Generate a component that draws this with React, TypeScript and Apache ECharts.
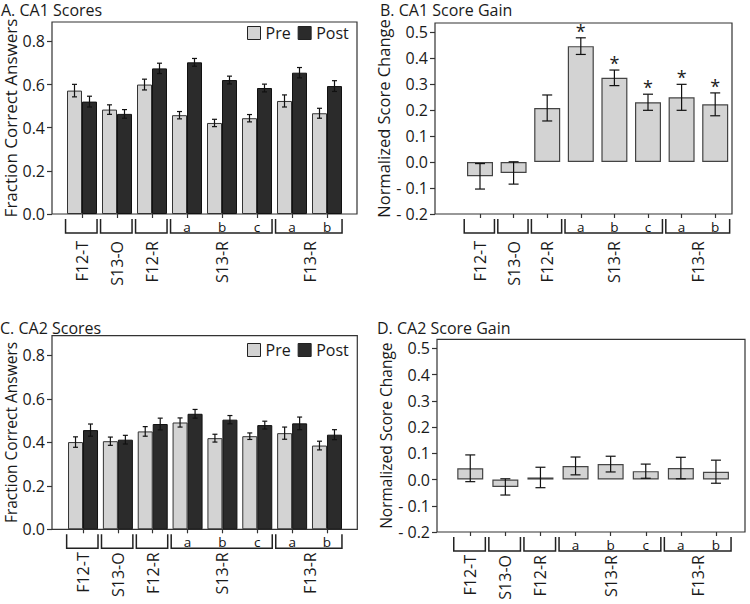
import React, { useEffect, useRef } from "react";
import * as echarts from "echarts";

// ---------- data ----------
const categories = ["F12-T", "S13-O", "F12-R", "S13-R a", "S13-R b", "S13-R c", "F13-R a", "F13-R b"];
const subLabels = ["", "", "", "a", "b", "c", "a", "b"];
const groupNames = ["F12-T", "S13-O", "F12-R", "S13-R", "F13-R"];
const groupStart = [0, 1, 2, 3, 6];
const groupEnd = [0, 1, 2, 5, 7];

const ca1Pre = [0.572, 0.484, 0.600, 0.458, 0.422, 0.444, 0.524, 0.467];
const ca1PreErr = [0.029, 0.022, 0.025, 0.017, 0.017, 0.017, 0.028, 0.023];
const ca1Post = [0.521, 0.464, 0.675, 0.703, 0.621, 0.584, 0.655, 0.593];
const ca1PostErr = [0.025, 0.020, 0.024, 0.018, 0.018, 0.018, 0.024, 0.025];
const ca1Gain = [-0.055, -0.042, 0.208, 0.446, 0.324, 0.230, 0.249, 0.222];
const ca1GainErr = [0.049, 0.043, 0.050, 0.032, 0.030, 0.031, 0.050, 0.044];
const ca1Sig = [0, 0, 0, 1, 1, 1, 1, 1];

const ca2Pre = [0.401, 0.405, 0.450, 0.491, 0.419, 0.428, 0.442, 0.385];
const ca2PreErr = [0.024, 0.019, 0.022, 0.021, 0.018, 0.015, 0.028, 0.020];
const ca2Post = [0.456, 0.412, 0.484, 0.531, 0.504, 0.479, 0.487, 0.435];
const ca2PostErr = [0.028, 0.020, 0.027, 0.020, 0.019, 0.018, 0.029, 0.023];
const ca2Gain = [0.043, -0.028, 0.008, 0.052, 0.059, 0.032, 0.044, 0.030];
const ca2GainErr = [0.051, 0.031, 0.039, 0.034, 0.030, 0.027, 0.041, 0.044];
const ca2Sig = [0, 0, 0, 0, 0, 0, 0, 0];

const scoreTicks = [0, 0.2, 0.4, 0.6, 0.8];
const gainTicks = [-0.2, -0.1, 0, 0.1, 0.2, 0.3, 0.4, 0.5];

// ---------- style / layout ----------
const FONT = '"Open Sans", "Noto Sans", sans-serif';
const INK = "#1a1a1a";
const PRE_COLOR = "#d3d3d3";
const POST_COLOR = "#2b2b2b";

type Panel = {
  title: string;
  titleX: number;
  titleY: number;
  frame: { left: number; top: number; width: number; height: number };
  barsLeft: number;
  barsWidth: number;
  kind: "score" | "gain";
  yName: string;
  nameGap: number;
  nameSize: number;
  legendTop?: number;
};

const panels: Panel[] = [
  { title: "A. CA1 Scores", titleX: 1, titleY: 2, frame: { left: 52, top: 22, width: 305, height: 192 }, barsLeft: 64.5, barsWidth: 280, kind: "score", yName: "Fraction Correct Answers", nameGap: 33, nameSize: 17, legendTop: 25 },
  { title: "B. CA1 Score Gain", titleX: 380, titleY: 2, frame: { left: 435, top: 23, width: 297, height: 191 }, barsLeft: 463.2, barsWidth: 268.8, kind: "gain", yName: "Normalized Score Change", nameGap: 42, nameSize: 16.5 },
  { title: "C. CA2 Scores", titleX: 0, titleY: 320, frame: { left: 52, top: 335.7, width: 305.3, height: 193.6 }, barsLeft: 65.6, barsWidth: 278.8, kind: "score", yName: "Fraction Correct Answers", nameGap: 33, nameSize: 15.5, legendTop: 342 },
  { title: "D. CA2 Score Gain", titleX: 377, titleY: 320, frame: { left: 437, top: 339.3, width: 308, height: 192.7 }, barsLeft: 452.7, barsWidth: 280.8, kind: "gain", yName: "Normalized Score Change", nameGap: 42, nameSize: 15.5 },
];

function errRender(halfBar: number, capW: number) {
  return (params: any, api: any) => {
    const i = api.value(0);
    const v = api.value(1);
    const e = api.value(2);
    const side = api.value(3);
    const sig = api.value(4);
    const base = api.coord([i, v]);
    const x = base[0] + side * halfBar;
    const yt = api.coord([i, v + e])[1];
    const yb = api.coord([i, v - e])[1];
    const st = { stroke: "#111", lineWidth: 1.2 };
    const children: any[] = [
      { type: "line", shape: { x1: x, y1: yt, x2: x, y2: yb }, style: st },
      { type: "line", shape: { x1: x - capW / 2, y1: yt, x2: x + capW / 2, y2: yt }, style: st },
      { type: "line", shape: { x1: x - capW / 2, y1: yb, x2: x + capW / 2, y2: yb }, style: st },
    ];
    if (sig) {
      children.push({
        type: "text",
        x: x,
        y: yt + 2,
        style: { text: "*", fill: INK, fontSize: 18, fontFamily: FONT, align: "center", verticalAlign: "bottom" },
      });
    }
    return { type: "group", children };
  };
}

function bracketRender(labelTop: number) {
  return (params: any, api: any) => {
    const idx = params.dataIndex;
    const cs = params.coordSys;
    const bottom = cs.y + cs.height;
    const band = api.size([1, 0])[0];
    const sx = api.coord([api.value(0), 0])[0];
    const ex = api.coord([api.value(1), 0])[0];
    const x0 = sx - 0.47 * band;
    const x1 = ex + 0.43 * band;
    const y0 = bottom + 5;
    const y1 = bottom + 19;
    return {
      type: "group",
      children: [
        {
          type: "polyline",
          shape: { points: [[x0, y0], [x0, y1], [x1, y1], [x1, y0]] },
          style: { stroke: "#222", lineWidth: 1.5, fill: "none" },
        },
        {
          type: "text",
          x: (sx + ex) / 2,
          y: bottom + labelTop,
          rotation: Math.PI / 2,
          style: { text: groupNames[idx], fill: INK, fontSize: 16, fontFamily: FONT, align: "right", verticalAlign: "middle" },
        },
      ],
    };
  };
}

function buildOption() {
  const grid: any[] = [];
  const xAxis: any[] = [];
  const yAxis: any[] = [];
  const series: any[] = [];
  const title: any[] = [];
  const legend: any[] = [];

  const preSets = [ca1Pre, ca2Pre];
  const preErrs = [ca1PreErr, ca2PreErr];
  const postSets = [ca1Post, ca2Post];
  const postErrs = [ca1PostErr, ca2PostErr];
  const gainSets = [ca1Gain, ca2Gain];
  const gainErrs = [ca1GainErr, ca2GainErr];
  const sigSets = [ca1Sig, ca2Sig];

  panels.forEach((p, k) => {
    const isScore = p.kind === "score";
    const min = isScore ? 0 : -0.2;
    const max = isScore ? 0.89 : 0.535;
    const ticks = isScore ? scoreTicks : gainTicks;
    const interval = isScore ? 0.2 : 0.1;
    const row = k < 2 ? 0 : 1;
    const fi = 2 * k;
    const bi = 2 * k + 1;

    title.push({
      text: p.title,
      left: p.titleX,
      top: p.titleY,
      padding: 0,
      textStyle: { fontSize: 16, lineHeight: 16, fontWeight: "normal", color: INK, fontFamily: FONT },
    });

    grid.push({
      left: p.frame.left,
      top: p.frame.top,
      width: p.frame.width,
      height: p.frame.height,
      show: true,
      borderColor: "#333",
      borderWidth: 1.2,
      backgroundColor: "transparent",
    });
    grid.push({ left: p.barsLeft, top: p.frame.top, width: p.barsWidth, height: p.frame.height });

    xAxis.push({ gridIndex: fi, type: "value", min: 0, max: 1, show: false });
    xAxis.push({
      gridIndex: bi,
      type: "category",
      data: categories,
      boundaryGap: true,
      axisLine: { show: false, onZero: false },
      axisTick: { show: true, alignWithLabel: true, length: 4, lineStyle: { color: "#333", width: 1.2 } },
      axisLabel: {
        interval: 0,
        margin: 6,
        fontSize: 13.5,
        fontFamily: FONT,
        color: "#111111",
        formatter: (_v: string, i: number) => subLabels[i],
      },
      splitLine: { show: false },
    });

    yAxis.push({
      gridIndex: fi,
      type: "value",
      min,
      max,
      interval,
      name: p.yName,
      nameLocation: "middle",
      nameGap: p.nameGap,
      nameTextStyle: { fontSize: p.nameSize, fontFamily: FONT, color: INK },
      axisLine: { show: false },
      axisTick: { show: true, length: 5, customValues: ticks, lineStyle: { color: "#333", width: 1.2 } },
      axisLabel: {
        customValues: ticks,
        margin: 7,
        fontSize: 16,
        fontFamily: FONT,
        color: INK,
        formatter: (v: number) => (v < -1e-9 ? "- " + Math.abs(v).toFixed(1) : Math.abs(v).toFixed(1)),
      },
      splitLine: { show: false },
    });
    yAxis.push({ gridIndex: bi, type: "value", min, max, interval, show: false, splitLine: { show: false } });

    const labelTop = row === 0 ? 27 : 23;

    if (isScore) {
      const pre = preSets[row];
      const post = postSets[row];
      const barW = 15;
      series.push({
        type: "bar",
        name: "Pre",
        xAxisIndex: bi,
        yAxisIndex: bi,
        data: pre,
        barWidth: barW,
        barGap: "0%",
        itemStyle: { color: PRE_COLOR, borderColor: "#333", borderWidth: 1 },
      });
      series.push({
        type: "bar",
        name: "Post",
        xAxisIndex: bi,
        yAxisIndex: bi,
        data: post,
        barWidth: barW,
        barGap: "0%",
        itemStyle: { color: POST_COLOR, borderColor: "#111", borderWidth: 1 },
      });
      const errData = pre
        .map((v, i) => [i, v, preErrs[row][i], -1, 0])
        .concat(post.map((v, i) => [i, v, postErrs[row][i], 1, 0]));
      series.push({
        type: "custom",
        name: "err" + k,
        xAxisIndex: bi,
        yAxisIndex: bi,
        z: 5,
        renderItem: errRender(barW / 2, 5),
        encode: { x: 0, y: 1 },
        data: errData,
      });
      legend.push({
        data: ["Pre", "Post"],
        left: 247,
        top: p.legendTop,
        icon: "rect",
        itemWidth: 13,
        itemHeight: 13,
        itemGap: 7,
        padding: 0,
        itemStyle: { borderColor: "#222", borderWidth: 1 },
        textStyle: { fontSize: 16, fontFamily: FONT, color: INK },
      });
    } else {
      const gain = gainSets[row];
      const barW = 26;
      series.push({
        type: "bar",
        name: "Gain" + k,
        xAxisIndex: bi,
        yAxisIndex: bi,
        data: gain,
        barWidth: barW,
        itemStyle: { color: PRE_COLOR, borderColor: "#444", borderWidth: 1.2 },
      });
      series.push({
        type: "custom",
        name: "err" + k,
        xAxisIndex: bi,
        yAxisIndex: bi,
        z: 5,
        renderItem: errRender(0, 10),
        encode: { x: 0, y: 1 },
        data: gain.map((v, i) => [i, v, gainErrs[row][i], 0, sigSets[row][i]]),
      });
    }

    series.push({
      type: "custom",
      name: "brackets" + k,
      xAxisIndex: bi,
      yAxisIndex: bi,
      clip: false,
      renderItem: bracketRender(labelTop),
      encode: { x: [0, 1], y: 2 },
      data: groupStart.map((s, i) => [s, groupEnd[i], min]),
    });
  });

  return {
    animation: false,
    backgroundColor: "#ffffff",
    textStyle: { fontFamily: FONT },
    title,
    legend,
    grid,
    xAxis,
    yAxis,
    series,
  };
}

export default function App() {
  const ref = useRef<HTMLDivElement>(null);
  useEffect(() => {
    if (!ref.current) return;
    const chart = echarts.init(ref.current, undefined, { renderer: "svg" });
    chart.setOption(buildOption() as any);
    return () => chart.dispose();
  }, []);
  return (
    <div
      ref={ref}
      style={{ position: "absolute", left: 0, top: 0, width: 750, height: 604, background: "#fff" }}
    />
  );
}
